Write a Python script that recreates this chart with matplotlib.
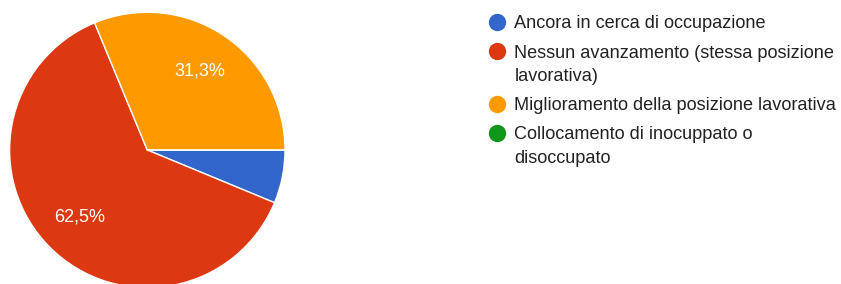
import matplotlib
matplotlib.use("Agg")
import matplotlib.pyplot as plt
import math

categories = [
    "Ancora in cerca di occupazione",
    "Nessun avanzamento (stessa posizione\nlavorativa)",
    "Miglioramento della posizione lavorativa",
    "Collocamento di inocuppato o\ndisoccupato",
]
values = [6.25, 62.5, 31.25, 0.0]
colors = ["#3366cc", "#dc3912", "#ff9900", "#109618"]

plt.rcParams['font.family'] = ['Liberation Sans', 'DejaVu Sans']

W, H = 841, 284
fig = plt.figure(figsize=(W / 100, H / 100), dpi=100)

cx, cy, r = 147.3, 150.0, 137.7
ax = fig.add_axes([(cx - r) / W, (H - cy - r) / H, 2 * r / W, 2 * r / H])


def fmt(p):
    if p < 10:
        return ""
    v = math.floor(p * 10 + 0.5) / 10
    return f"{v:.1f}%".replace(".", ",")


wedges, texts, autotexts = ax.pie(
    values, colors=colors, startangle=0, counterclock=False,
    autopct=fmt, pctdistance=0.69,
    wedgeprops=dict(edgecolor="white", linewidth=1.0),
    textprops=dict(color="white", fontsize=13),
)
ax.set_xlim(-1, 1)
ax.set_ylim(-1, 1)
ax.set_aspect("equal")
ax.axis("off")

# Legend drawn manually (markers aligned with first line)
lx_marker = 497.0
lx_text = 514.5
y = 21.7
line_h = 23.3
entry_gap = 29.3
for lab, col in zip(categories, colors):
    fig.add_artist(plt.Line2D([lx_marker / W], [1 - y / H], marker="o",
                              markersize=12.5, color=col, markeredgewidth=0,
                              transform=fig.transFigure))
    lines = lab.split("\n")
    for i, ln in enumerate(lines):
        fig.text(lx_text / W, 1 - (y + i * line_h) / H, ln, fontsize=13.1,
                 color="#222222", va="center_baseline", ha="left")
    y += (len(lines) - 1) * line_h + entry_gap

fig.savefig("out.png", dpi=100)
